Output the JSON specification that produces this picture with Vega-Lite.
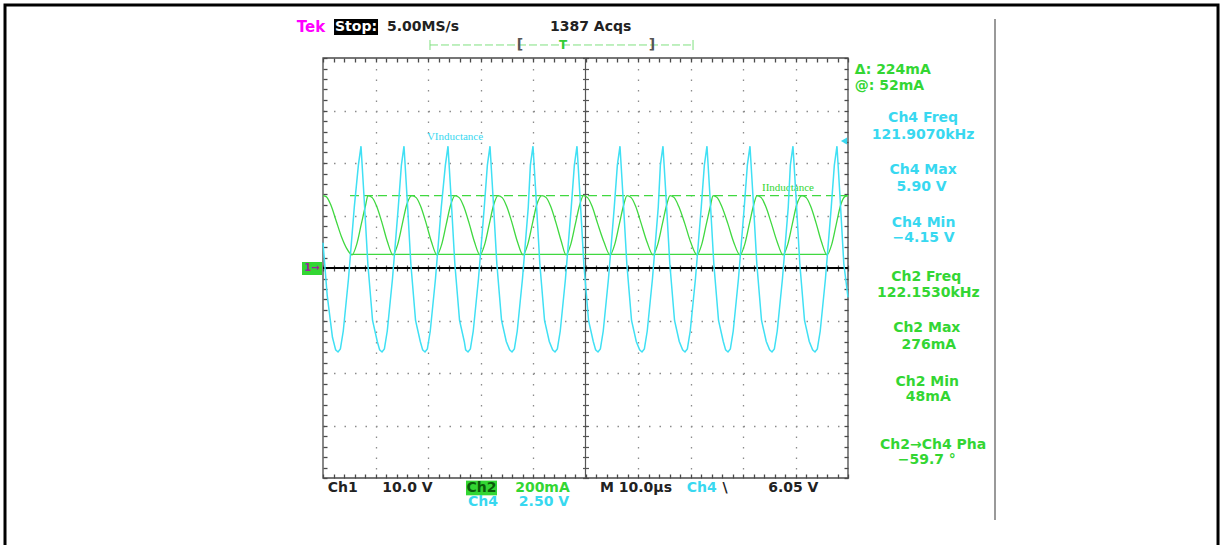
{
 "$schema": "https://vega.github.io/schema/vega-lite/v6.json",
 "width": 525, "height": 420,
 "autosize": {"type": "none"},
 "padding": {"left": 323, "top": 58, "right": 376, "bottom": 67},
 "background": "white",
 "config": {"view": {"stroke": null}, "text": {"font": "DejaVu Sans", "fontWeight": "bold", "fontSize": 14}},
 "data": {"values": [{}]},
 "datasets": {
  "ch1": [{"t": 0, "v": 0}, {"t": 100, "v": 0}],
  "cursorHi": [{"t0": 5.14, "t1": 100, "mA": 276}],
  "cursorLo": [{"t0": 5.33, "t1": 96.0, "mA": 52}],
  "ch2": [
   {"t":0,"mA":276},{"t":0.6,"mA":272},{"t":1.5,"mA":240},{"t":2.5,"mA":180},{"t":3.5,"mA":120},{"t":4.5,"mA":75},
   {"t":5.52,"mA":50},{"t":6.42,"mA":90},{"t":7.27,"mA":165},{"t":8.12,"mA":240},{"t":8.57,"mA":276},{"t":9.37,"mA":268},{"t":10.22,"mA":235},{"t":11.27,"mA":170},{"t":12.27,"mA":100},
   {"t":13.33,"mA":50},{"t":14.23,"mA":90},{"t":15.08,"mA":165},{"t":15.93,"mA":240},{"t":16.95,"mA":276},{"t":17.75,"mA":268},{"t":18.6,"mA":235},{"t":19.65,"mA":170},{"t":20.65,"mA":100},
   {"t":21.71,"mA":50},{"t":22.61,"mA":90},{"t":23.46,"mA":165},{"t":24.31,"mA":240},{"t":25.14,"mA":276},{"t":25.94,"mA":268},{"t":26.79,"mA":235},{"t":27.84,"mA":170},{"t":28.84,"mA":100},
   {"t":29.9,"mA":50},{"t":30.8,"mA":90},{"t":31.65,"mA":165},{"t":32.5,"mA":240},{"t":33.33,"mA":276},{"t":34.13,"mA":268},{"t":34.98,"mA":235},{"t":36.03,"mA":170},{"t":37.03,"mA":100},
   {"t":38.1,"mA":50},{"t":39.0,"mA":90},{"t":39.85,"mA":165},{"t":40.7,"mA":240},{"t":41.71,"mA":276},{"t":42.51,"mA":268},{"t":43.36,"mA":235},{"t":44.41,"mA":170},{"t":45.41,"mA":100},
   {"t":46.29,"mA":50},{"t":47.19,"mA":90},{"t":48.04,"mA":165},{"t":48.89,"mA":240},{"t":49.6,"mA":276},{"t":50.4,"mA":268},{"t":51.25,"mA":235},{"t":52.3,"mA":170},{"t":53.5,"mA":100},
   {"t":54.67,"mA":50},{"t":55.57,"mA":90},{"t":56.42,"mA":165},{"t":57.27,"mA":240},{"t":57.9,"mA":276},{"t":58.7,"mA":268},{"t":59.55,"mA":235},{"t":60.6,"mA":170},{"t":61.7,"mA":100},
   {"t":62.86,"mA":50},{"t":63.76,"mA":90},{"t":64.61,"mA":165},{"t":65.46,"mA":240},{"t":66.1,"mA":276},{"t":66.9,"mA":268},{"t":67.75,"mA":235},{"t":68.9,"mA":170},{"t":70.0,"mA":100},
   {"t":71.24,"mA":50},{"t":72.14,"mA":90},{"t":72.99,"mA":165},{"t":73.84,"mA":240},{"t":74.29,"mA":276},{"t":75.09,"mA":268},{"t":75.94,"mA":235},{"t":77.1,"mA":170},{"t":78.2,"mA":100},
   {"t":79.43,"mA":50},{"t":80.33,"mA":90},{"t":81.18,"mA":165},{"t":82.03,"mA":240},{"t":82.67,"mA":276},{"t":83.47,"mA":268},{"t":84.32,"mA":235},{"t":85.4,"mA":170},{"t":86.5,"mA":100},
   {"t":87.62,"mA":50},{"t":88.52,"mA":90},{"t":89.37,"mA":165},{"t":90.22,"mA":240},{"t":91.24,"mA":276},{"t":92.04,"mA":268},{"t":92.89,"mA":235},{"t":93.94,"mA":170},{"t":94.94,"mA":100},
   {"t":96.0,"mA":50},{"t":96.9,"mA":90},{"t":97.75,"mA":165},{"t":98.6,"mA":240},{"t":99.4,"mA":272},{"t":100,"mA":276}
  ],
  "ch4": [
   {"t":0,"v":1.2},{"t":0.8,"v":-1.3},{"t":1.8,"v":-3.3},{"t":2.41,"v":-3.9},
   {"t":2.86,"v":-4.0},{"t":3.31,"v":-3.85},{"t":3.86,"v":-3.0},{"t":4.86,"v":-0.5},{"t":5.96,"v":2.9},{"t":6.74,"v":4.9},{"t":7.24,"v":5.8},{"t":7.84,"v":3.3},{"t":8.54,"v":0.2},{"t":9.44,"v":-2.5},{"t":10.34,"v":-3.5},{"t":10.79,"v":-3.9},
   {"t":11.24,"v":-4.0},{"t":11.69,"v":-3.85},{"t":12.24,"v":-3.0},{"t":13.24,"v":-0.5},{"t":14.34,"v":2.9},{"t":14.93,"v":4.9},{"t":15.43,"v":5.8},{"t":16.03,"v":3.3},{"t":16.73,"v":0.2},{"t":17.63,"v":-2.5},{"t":18.53,"v":-3.5},{"t":18.98,"v":-3.9},
   {"t":19.43,"v":-4.0},{"t":19.88,"v":-3.85},{"t":20.43,"v":-3.0},{"t":21.43,"v":-0.5},{"t":22.53,"v":2.9},{"t":23.31,"v":4.9},{"t":23.81,"v":5.8},{"t":24.41,"v":3.3},{"t":25.11,"v":0.2},{"t":26.01,"v":-2.5},{"t":26.91,"v":-3.5},{"t":27.17,"v":-3.9},
   {"t":27.62,"v":-4.0},{"t":28.07,"v":-3.85},{"t":28.62,"v":-3.0},{"t":29.62,"v":-0.5},{"t":30.72,"v":2.9},{"t":31.31,"v":4.9},{"t":31.81,"v":5.8},{"t":32.41,"v":3.3},{"t":33.11,"v":0.2},{"t":34.01,"v":-2.5},{"t":34.91,"v":-3.5},{"t":35.55,"v":-3.9},
   {"t":36.0,"v":-4.0},{"t":36.45,"v":-3.85},{"t":37.0,"v":-3.0},{"t":38.0,"v":-0.5},{"t":39.1,"v":2.9},{"t":39.5,"v":4.9},{"t":40.0,"v":5.8},{"t":40.6,"v":3.3},{"t":41.3,"v":0.2},{"t":42.2,"v":-2.5},{"t":43.1,"v":-3.5},{"t":43.74,"v":-3.9},
   {"t":44.19,"v":-4.0},{"t":44.64,"v":-3.85},{"t":45.19,"v":-3.0},{"t":46.19,"v":-0.5},{"t":47.29,"v":2.9},{"t":47.88,"v":4.9},{"t":48.38,"v":5.8},{"t":48.98,"v":3.3},{"t":49.68,"v":0.2},{"t":50.58,"v":-2.5},{"t":51.48,"v":-3.5},{"t":51.93,"v":-3.9},
   {"t":52.38,"v":-4.0},{"t":52.83,"v":-3.85},{"t":53.38,"v":-3.0},{"t":54.38,"v":-0.5},{"t":55.48,"v":2.9},{"t":56.07,"v":4.9},{"t":56.57,"v":5.8},{"t":57.17,"v":3.3},{"t":57.87,"v":0.2},{"t":58.77,"v":-2.5},{"t":59.67,"v":-3.5},{"t":60.31,"v":-3.9},
   {"t":60.76,"v":-4.0},{"t":61.21,"v":-3.85},{"t":61.76,"v":-3.0},{"t":62.76,"v":-0.5},{"t":63.86,"v":2.9},{"t":64.26,"v":4.9},{"t":64.76,"v":5.8},{"t":65.36,"v":3.3},{"t":66.06,"v":0.2},{"t":66.96,"v":-2.5},{"t":67.86,"v":-3.5},{"t":68.5,"v":-3.9},
   {"t":68.95,"v":-4.0},{"t":69.4,"v":-3.85},{"t":69.95,"v":-3.0},{"t":70.95,"v":-0.5},{"t":72.05,"v":2.9},{"t":72.64,"v":4.9},{"t":73.14,"v":5.8},{"t":73.74,"v":3.3},{"t":74.44,"v":0.2},{"t":75.34,"v":-2.5},{"t":76.24,"v":-3.5},{"t":76.69,"v":-3.9},
   {"t":77.14,"v":-4.0},{"t":77.59,"v":-3.85},{"t":78.14,"v":-3.0},{"t":79.14,"v":-0.5},{"t":80.24,"v":2.9},{"t":80.83,"v":4.9},{"t":81.33,"v":5.8},{"t":81.93,"v":3.3},{"t":82.63,"v":0.2},{"t":83.53,"v":-2.5},{"t":84.43,"v":-3.5},{"t":85.07,"v":-3.9},
   {"t":85.52,"v":-4.0},{"t":85.97,"v":-3.85},{"t":86.52,"v":-3.0},{"t":87.52,"v":-0.5},{"t":88.62,"v":2.9},{"t":89.02,"v":4.9},{"t":89.52,"v":5.8},{"t":90.12,"v":3.3},{"t":90.82,"v":0.2},{"t":91.72,"v":-2.5},{"t":92.62,"v":-3.5},{"t":93.26,"v":-3.9},
   {"t":93.71,"v":-4.0},{"t":94.16,"v":-3.85},{"t":94.71,"v":-3.0},{"t":95.71,"v":-0.5},{"t":96.81,"v":2.9},{"t":97.4,"v":4.9},{"t":97.9,"v":5.8},{"t":98.5,"v":3.3},{"t":99.2,"v":0.2},{"t":100,"v":-1.4}
  ]
 },
 "resolve": {"scale": {"y": "independent"}, "axis": {"x": "independent", "y": "independent"}},
 "layer": [
  {
   "resolve": {"axis": {"x": "independent", "y": "independent"}},
   "layer": [
    {"mark": {"type": "rule", "opacity": 0},
     "encoding": {
      "x": {"datum": 0, "type": "quantitative", "scale": {"domain": [0, 100], "nice": false, "zero": false},
            "axis": {"orient": "bottom", "values": [10,20,30,40,60,70,80,90], "grid": true, "gridDash": [1.5, 9], "gridColor": "#8c8c8c", "gridWidth": 1.3, "ticks": false, "labels": false, "domain": false, "title": null}},
      "y": {"datum": 0, "type": "quantitative", "scale": {"domain": [-4, 4], "nice": false, "zero": false},
            "axis": {"orient": "left", "values": [-3,-2,-1,1,2,3], "grid": true, "gridDash": [1.5, 9], "gridColor": "#8c8c8c", "gridWidth": 1.3, "ticks": false, "labels": false, "domain": false, "title": null}}
     }},
    {"mark": {"type": "rect", "fillOpacity": 0, "stroke": "#4a4a4a", "strokeWidth": 1.3},
     "encoding": {
      "x": {"datum": 0, "type": "quantitative",
            "axis": {"orient": "bottom", "values": [0,2,4,6,8,10,12,14,16,18,20,22,24,26,28,30,32,34,36,38,40,42,44,46,48,50,52,54,56,58,60,62,64,66,68,70,72,74,76,78,80,82,84,86,88,90,92,94,96,98,100], "tickSize": -4, "tickColor": "#4a4a4a", "tickWidth": 1.3, "labels": false, "domain": false, "grid": false, "title": null}},
      "x2": {"datum": 100},
      "y": {"datum": -4, "type": "quantitative",
            "axis": {"orient": "left", "values": [-4,-3.8,-3.6,-3.4,-3.2,-3,-2.8,-2.6,-2.4,-2.2,-2,-1.8,-1.6,-1.4,-1.2,-1,-0.8,-0.6,-0.4,-0.2,0,0.2,0.4,0.6,0.8,1,1.2,1.4,1.6,1.8,2,2.2,2.4,2.6,2.8,3,3.2,3.4,3.6,3.8,4], "tickSize": -4, "tickColor": "#4a4a4a", "tickWidth": 1.3, "labels": false, "domain": false, "grid": false, "title": null}},
      "y2": {"datum": 4}
     }},
    {"mark": {"type": "rule", "opacity": 0},
     "encoding": {
      "x": {"datum": 0, "type": "quantitative",
            "axis": {"orient": "top", "values": [0,2,4,6,8,10,12,14,16,18,20,22,24,26,28,30,32,34,36,38,40,42,44,46,48,50,52,54,56,58,60,62,64,66,68,70,72,74,76,78,80,82,84,86,88,90,92,94,96,98,100], "tickSize": -4, "tickColor": "#4a4a4a", "tickWidth": 1.3, "labels": false, "domain": false, "grid": false, "title": null}},
      "y": {"datum": 0, "type": "quantitative",
            "axis": {"orient": "right", "values": [-4,-3.8,-3.6,-3.4,-3.2,-3,-2.8,-2.6,-2.4,-2.2,-2,-1.8,-1.6,-1.4,-1.2,-1,-0.8,-0.6,-0.4,-0.2,0,0.2,0.4,0.6,0.8,1,1.2,1.4,1.6,1.8,2,2.2,2.4,2.6,2.8,3,3.2,3.4,3.6,3.8,4], "tickSize": -4, "tickColor": "#4a4a4a", "tickWidth": 1.3, "labels": false, "domain": false, "grid": false, "title": null}}
     }},
    {"mark": {"type": "rule", "color": "#555555", "strokeWidth": 1.2},
     "encoding": {
      "x": {"datum": 50, "type": "quantitative",
            "axis": {"orient": "bottom", "offset": -213, "values": [0,2,4,6,8,10,12,14,16,18,20,22,24,26,28,30,32,34,36,38,40,42,44,46,48,50,52,54,56,58,60,62,64,66,68,70,72,74,76,78,80,82,84,86,88,90,92,94,96,98,100], "tickSize": 6, "tickColor": "#555555", "tickWidth": 1.2, "labels": false, "domain": false, "grid": false, "title": null}},
      "y": {"datum": -4, "type": "quantitative",
            "axis": {"orient": "left", "offset": -265.5, "values": [-4,-3.8,-3.6,-3.4,-3.2,-3,-2.8,-2.6,-2.4,-2.2,-2,-1.8,-1.6,-1.4,-1.2,-1,-0.8,-0.6,-0.4,-0.2,0,0.2,0.4,0.6,0.8,1,1.2,1.4,1.6,1.8,2,2.2,2.4,2.6,2.8,3,3.2,3.4,3.6,3.8,4], "tickSize": 6, "tickColor": "#555555", "tickWidth": 1.2, "labels": false, "domain": false, "grid": false, "title": null}},
      "y2": {"datum": 4}
     }},
    {"mark": {"type": "rect", "fillOpacity": 0, "stroke": "#000000", "strokeWidth": 3},
     "encoding": {"x": {"datum": -60.57, "type": "quantitative", "axis": null}, "x2": {"datum": 170.48}, "y": {"datum": 5.01, "type": "quantitative", "axis": null}, "y2": {"datum": -5.33}}},
    {"mark": {"type": "rule", "color": "#999999", "strokeWidth": 2},
     "encoding": {"x": {"datum": 128.0, "type": "quantitative", "axis": null}, "y": {"datum": 4.743, "type": "quantitative", "axis": null}, "y2": {"datum": -4.8}}},
    {"mark": {"type": "text", "text": "Tek", "color": "#ff00ff", "fontSize": 15, "align": "center", "baseline": "middle"},
     "encoding": {"x": {"datum": -2.29, "type": "quantitative", "axis": null}, "y": {"datum": 4.59, "type": "quantitative", "axis": null}}},
    {"mark": {"type": "rect", "color": "#000000"},
     "encoding": {"x": {"datum": 2.1, "type": "quantitative", "axis": null}, "x2": {"datum": 10.48}, "y": {"datum": 4.743, "type": "quantitative", "axis": null}, "y2": {"datum": 4.438}}},
    {"mark": {"type": "text", "text": "Stop:", "color": "#ffffff", "fontSize": 14, "align": "center", "baseline": "middle"},
     "encoding": {"x": {"datum": 6.29, "type": "quantitative", "axis": null}, "y": {"datum": 4.59, "type": "quantitative", "axis": null}}},
    {"mark": {"type": "text", "text": "5.00MS/s", "color": "#222222", "fontSize": 14, "align": "left", "baseline": "middle"},
     "encoding": {"x": {"datum": 12.19, "type": "quantitative", "axis": null}, "y": {"datum": 4.59, "type": "quantitative", "axis": null}}},
    {"mark": {"type": "text", "text": "1387 Acqs", "color": "#222222", "fontSize": 14, "align": "left", "baseline": "middle"},
     "encoding": {"x": {"datum": 43.24, "type": "quantitative", "axis": null}, "y": {"datum": 4.59, "type": "quantitative", "axis": null}}},
    {"mark": {"type": "rule", "color": "#7fe07f", "strokeWidth": 1, "strokeDash": [8, 3]},
     "encoding": {"x": {"datum": 20.38, "type": "quantitative", "axis": null}, "x2": {"datum": 70.48}, "y": {"datum": 4.248, "type": "quantitative", "axis": null}}},
    {"mark": {"type": "rule", "color": "#7fe07f", "strokeWidth": 1},
     "encoding": {"x": {"datum": 20.38, "type": "quantitative", "axis": null}, "y": {"datum": 4.343, "type": "quantitative", "axis": null}, "y2": {"datum": 4.152}}},
    {"mark": {"type": "rule", "color": "#7fe07f", "strokeWidth": 1},
     "encoding": {"x": {"datum": 70.48, "type": "quantitative", "axis": null}, "y": {"datum": 4.343, "type": "quantitative", "axis": null}, "y2": {"datum": 4.152}}},
    {"mark": {"type": "text", "text": "[", "color": "#555555", "fontSize": 14, "align": "center", "baseline": "middle"},
     "encoding": {"x": {"datum": 37.52, "type": "quantitative", "axis": null}, "y": {"datum": 4.248, "type": "quantitative", "axis": null}}},
    {"mark": {"type": "text", "text": "]", "color": "#555555", "fontSize": 14, "align": "center", "baseline": "middle"},
     "encoding": {"x": {"datum": 62.67, "type": "quantitative", "axis": null}, "y": {"datum": 4.248, "type": "quantitative", "axis": null}}},
    {"mark": {"type": "text", "text": "T", "color": "#33cc33", "fontSize": 12, "align": "center", "baseline": "middle"},
     "encoding": {"x": {"datum": 45.71, "type": "quantitative", "axis": null}, "y": {"datum": 4.248, "type": "quantitative", "axis": null}}},
    {"mark": {"type": "text", "text": "Δ: 224mA", "color": "#33d633", "fontSize": 14, "align": "left", "baseline": "middle"},
     "encoding": {"x": {"datum": 101.3, "type": "quantitative", "axis": null}, "y": {"datum": 3.771, "type": "quantitative", "axis": null}}},
    {"mark": {"type": "text", "text": "@: 52mA", "color": "#33d633", "fontSize": 14, "align": "left", "baseline": "middle"},
     "encoding": {"x": {"datum": 101.3, "type": "quantitative", "axis": null}, "y": {"datum": 3.467, "type": "quantitative", "axis": null}}},
    {"mark": {"type": "text", "text": "Ch4 Freq", "color": "#38d8f0", "align": "center", "baseline": "middle"},
     "encoding": {"x": {"datum": 114.3, "type": "quantitative", "axis": null}, "y": {"datum": 2.857, "type": "quantitative", "axis": null}}},
    {"mark": {"type": "text", "text": "121.9070kHz", "color": "#38d8f0", "align": "center", "baseline": "middle"},
     "encoding": {"x": {"datum": 114.3, "type": "quantitative", "axis": null}, "y": {"datum": 2.533, "type": "quantitative", "axis": null}}},
    {"mark": {"type": "text", "text": "Ch4 Max", "color": "#38d8f0", "align": "center", "baseline": "middle"},
     "encoding": {"x": {"datum": 114.3, "type": "quantitative", "axis": null}, "y": {"datum": 1.867, "type": "quantitative", "axis": null}}},
    {"mark": {"type": "text", "text": "5.90 V", "color": "#38d8f0", "align": "center", "baseline": "middle"},
     "encoding": {"x": {"datum": 114.0, "type": "quantitative", "axis": null}, "y": {"datum": 1.543, "type": "quantitative", "axis": null}}},
    {"mark": {"type": "text", "text": "Ch4 Min", "color": "#38d8f0", "align": "center", "baseline": "middle"},
     "encoding": {"x": {"datum": 114.4, "type": "quantitative", "axis": null}, "y": {"datum": 0.857, "type": "quantitative", "axis": null}}},
    {"mark": {"type": "text", "text": "−4.15 V", "color": "#38d8f0", "align": "center", "baseline": "middle"},
     "encoding": {"x": {"datum": 114.4, "type": "quantitative", "axis": null}, "y": {"datum": 0.571, "type": "quantitative", "axis": null}}},
    {"mark": {"type": "text", "text": "Ch2 Freq", "color": "#33d633", "align": "center", "baseline": "middle"},
     "encoding": {"x": {"datum": 114.9, "type": "quantitative", "axis": null}, "y": {"datum": -0.171, "type": "quantitative", "axis": null}}},
    {"mark": {"type": "text", "text": "122.1530kHz", "color": "#33d633", "align": "center", "baseline": "middle"},
     "encoding": {"x": {"datum": 115.3, "type": "quantitative", "axis": null}, "y": {"datum": -0.476, "type": "quantitative", "axis": null}}},
    {"mark": {"type": "text", "text": "Ch2 Max", "color": "#33d633", "align": "center", "baseline": "middle"},
     "encoding": {"x": {"datum": 115.0, "type": "quantitative", "axis": null}, "y": {"datum": -1.143, "type": "quantitative", "axis": null}}},
    {"mark": {"type": "text", "text": "276mA", "color": "#33d633", "align": "center", "baseline": "middle"},
     "encoding": {"x": {"datum": 115.4, "type": "quantitative", "axis": null}, "y": {"datum": -1.467, "type": "quantitative", "axis": null}}},
    {"mark": {"type": "text", "text": "Ch2 Min", "color": "#33d633", "align": "center", "baseline": "middle"},
     "encoding": {"x": {"datum": 115.1, "type": "quantitative", "axis": null}, "y": {"datum": -2.171, "type": "quantitative", "axis": null}}},
    {"mark": {"type": "text", "text": "48mA", "color": "#33d633", "align": "center", "baseline": "middle"},
     "encoding": {"x": {"datum": 115.3, "type": "quantitative", "axis": null}, "y": {"datum": -2.457, "type": "quantitative", "axis": null}}},
    {"mark": {"type": "text", "text": "Ch2→Ch4 Pha", "color": "#33d633", "align": "center", "baseline": "middle"},
     "encoding": {"x": {"datum": 116.2, "type": "quantitative", "axis": null}, "y": {"datum": -3.371, "type": "quantitative", "axis": null}}},
    {"mark": {"type": "text", "text": "−59.7 °", "color": "#33d633", "align": "center", "baseline": "middle"},
     "encoding": {"x": {"datum": 115.0, "type": "quantitative", "axis": null}, "y": {"datum": -3.657, "type": "quantitative", "axis": null}}},
    {"mark": {"type": "text", "text": "Ch1", "color": "#222222", "align": "left", "baseline": "middle"},
     "encoding": {"x": {"datum": 0.9, "type": "quantitative", "axis": null}, "y": {"datum": -4.19, "type": "quantitative", "axis": null}}},
    {"mark": {"type": "text", "text": "10.0 V", "color": "#222222", "align": "left", "baseline": "middle"},
     "encoding": {"x": {"datum": 11.3, "type": "quantitative", "axis": null}, "y": {"datum": -4.19, "type": "quantitative", "axis": null}}},
    {"mark": {"type": "rect", "color": "#33d633"},
     "encoding": {"x": {"datum": 27.24, "type": "quantitative", "axis": null}, "x2": {"datum": 33.14}, "y": {"datum": -4.05, "type": "quantitative", "axis": null}, "y2": {"datum": -4.33}}},
    {"mark": {"type": "text", "text": "Ch2", "color": "#0a5a0a", "align": "center", "baseline": "middle"},
     "encoding": {"x": {"datum": 30.19, "type": "quantitative", "axis": null}, "y": {"datum": -4.19, "type": "quantitative", "axis": null}}},
    {"mark": {"type": "text", "text": "200mA", "color": "#33d633", "align": "left", "baseline": "middle"},
     "encoding": {"x": {"datum": 36.6, "type": "quantitative", "axis": null}, "y": {"datum": -4.19, "type": "quantitative", "axis": null}}},
    {"mark": {"type": "text", "text": "M 10.0µs", "color": "#222222", "align": "left", "baseline": "middle"},
     "encoding": {"x": {"datum": 52.76, "type": "quantitative", "axis": null}, "y": {"datum": -4.19, "type": "quantitative", "axis": null}}},
    {"mark": {"type": "text", "text": "Ch4", "color": "#38d8f0", "align": "left", "baseline": "middle"},
     "encoding": {"x": {"datum": 69.3, "type": "quantitative", "axis": null}, "y": {"datum": -4.19, "type": "quantitative", "axis": null}}},
    {"mark": {"type": "text", "text": "\\", "color": "#222222", "align": "center", "baseline": "middle"},
     "encoding": {"x": {"datum": 76.6, "type": "quantitative", "axis": null}, "y": {"datum": -4.19, "type": "quantitative", "axis": null}}},
    {"mark": {"type": "text", "text": "6.05 V", "color": "#222222", "align": "left", "baseline": "middle"},
     "encoding": {"x": {"datum": 84.8, "type": "quantitative", "axis": null}, "y": {"datum": -4.19, "type": "quantitative", "axis": null}}},
    {"mark": {"type": "text", "text": "Ch4", "color": "#38d8f0", "align": "left", "baseline": "middle"},
     "encoding": {"x": {"datum": 27.6, "type": "quantitative", "axis": null}, "y": {"datum": -4.457, "type": "quantitative", "axis": null}}},
    {"mark": {"type": "text", "text": "2.50 V", "color": "#38d8f0", "align": "left", "baseline": "middle"},
     "encoding": {"x": {"datum": 37.3, "type": "quantitative", "axis": null}, "y": {"datum": -4.457, "type": "quantitative", "axis": null}}},
    {"mark": {"type": "text", "text": "VInductance", "color": "#38d8f0", "font": "Liberation Serif", "fontWeight": "normal", "fontSize": 11, "align": "center", "baseline": "middle"},
     "encoding": {"x": {"datum": 25.14, "type": "quantitative", "axis": null}, "y": {"datum": 2.495, "type": "quantitative", "axis": null}}},
    {"mark": {"type": "text", "text": "IInductance", "color": "#33d633", "font": "Liberation Serif", "fontWeight": "normal", "fontSize": 11, "align": "center", "baseline": "middle"},
     "encoding": {"x": {"datum": 88.57, "type": "quantitative", "axis": null}, "y": {"datum": 1.524, "type": "quantitative", "axis": null}}},
    {"mark": {"type": "point", "shape": "triangle-left", "filled": true, "color": "#38d8f0", "size": 50, "opacity": 1},
     "encoding": {"x": {"datum": 99.24, "type": "quantitative", "axis": null}, "y": {"datum": 2.42, "type": "quantitative", "axis": null}}},
    {"mark": {"type": "rect", "color": "#33d633"},
     "encoding": {"x": {"datum": -4.0, "type": "quantitative", "axis": null}, "x2": {"datum": -0.19}, "y": {"datum": 0.114, "type": "quantitative", "axis": null}, "y2": {"datum": -0.133}}},
    {"mark": {"type": "text", "text": "1→", "color": "#a020a0", "fontSize": 10, "align": "center", "baseline": "middle"},
     "encoding": {"x": {"datum": -2.1, "type": "quantitative", "axis": null}, "y": {"datum": 0, "type": "quantitative", "axis": null}}}
   ]
  },
  {"data": {"name": "ch1"}, "mark": {"type": "line", "color": "#000000", "strokeWidth": 2.2},
   "encoding": {"x": {"field": "t", "type": "quantitative", "scale": {"domain": [0, 100], "nice": false, "zero": false}, "axis": null},
                "y": {"field": "v", "type": "quantitative", "scale": {"domain": [-40, 40], "nice": false, "zero": false}, "axis": null}}},
  {"data": {"name": "cursorHi"}, "mark": {"type": "rule", "color": "#40d840", "strokeWidth": 1.3, "strokeDash": [9, 5]},
   "encoding": {"x": {"field": "t0", "type": "quantitative", "axis": null}, "x2": {"field": "t1"},
                "y": {"field": "mA", "type": "quantitative", "scale": {"domain": [-800, 800], "nice": false, "zero": false}, "axis": null}}},
  {"data": {"name": "cursorLo"}, "mark": {"type": "rule", "color": "#40d840", "strokeWidth": 1.3},
   "encoding": {"x": {"field": "t0", "type": "quantitative", "axis": null}, "x2": {"field": "t1"},
                "y": {"field": "mA", "type": "quantitative", "scale": {"domain": [-800, 800], "nice": false, "zero": false}, "axis": null}}},
  {"data": {"name": "ch2"}, "mark": {"type": "line", "color": "#40d840", "strokeWidth": 1.3, "interpolate": "monotone"},
   "encoding": {"x": {"field": "t", "type": "quantitative", "axis": null},
                "y": {"field": "mA", "type": "quantitative", "scale": {"domain": [-800, 800], "nice": false, "zero": false}, "axis": null}}},
  {"data": {"name": "ch4"}, "mark": {"type": "line", "color": "#40e0f4", "strokeWidth": 1.5},
   "encoding": {"x": {"field": "t", "type": "quantitative", "axis": null},
                "y": {"field": "v", "type": "quantitative", "scale": {"domain": [-10, 10], "nice": false, "zero": false}, "axis": null}}}
 ]
}
